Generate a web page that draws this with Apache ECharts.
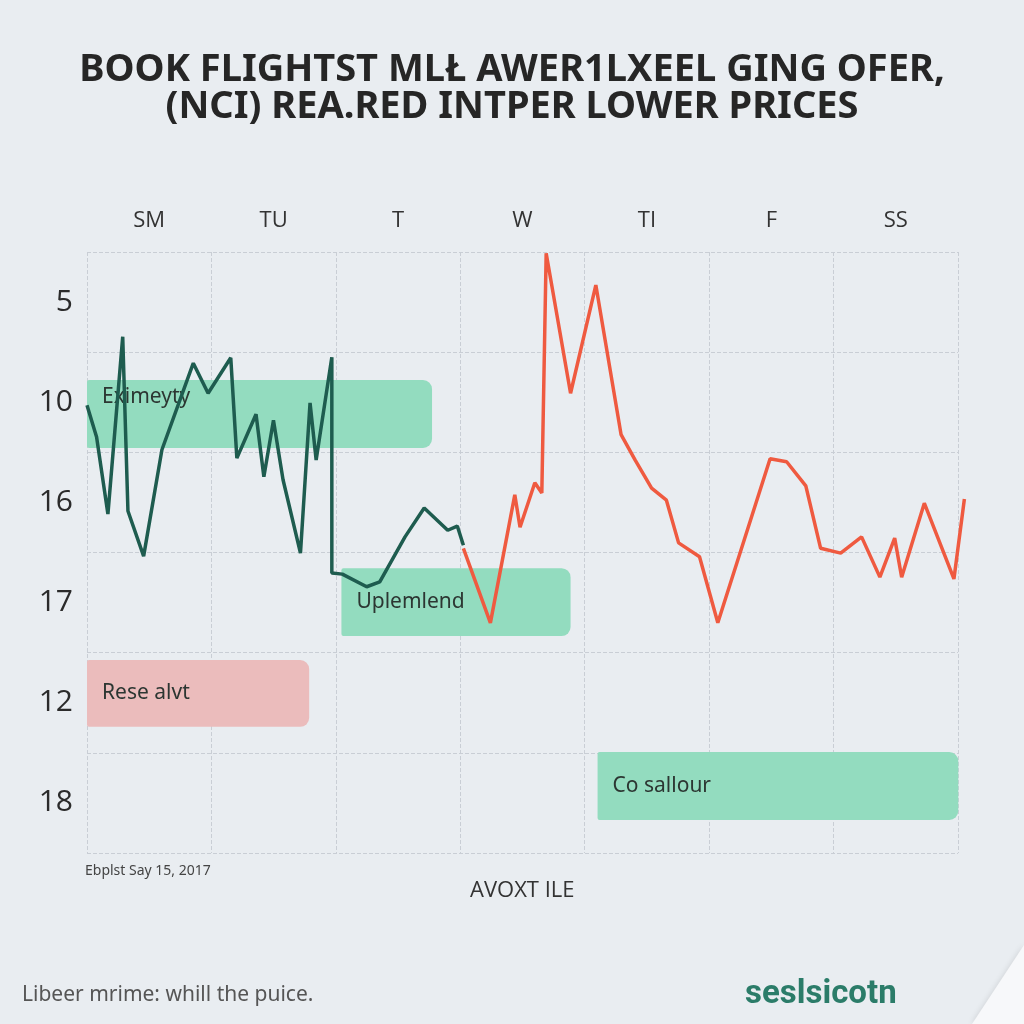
<!DOCTYPE html>
<html>
<head>
<meta charset="utf-8">
<script src="https://cdn.jsdelivr.net/npm/echarts@6/dist/echarts.min.js"></script>
<style>
  html, body { margin: 0; padding: 0; background: #e9edf1; }
  #chart { width: 1024px; height: 1024px; }
</style>
</head>
<body>
<div id="chart"></div>
<script>
// 类别与刻度
const dayLabels = ['SM', 'TU', 'T', 'W', 'TI', 'F', 'SS'];
const rowLabels = ['5', '10', '16', '17', '12', '18'];

// 绿色走势（前半段）
const greenX = [0, 1.1, 2.4, 4.1, 4.7, 6.5, 8.6, 12.2, 13.9, 16.5, 17.2, 19.4, 20.3, 21.4, 22.5, 24.5, 25.6, 26.3, 28.1, 28.1, 29.3, 32.1, 33.6, 36.5, 38.7, 41.4, 42.5, 43.2];
const greenY = [74.5, 69.2, 56.4, 85.9, 56.9, 49.4, 67.1, 81.5, 76.5, 82.4, 65.7, 73.0, 62.6, 72.0, 62.1, 49.9, 74.9, 65.4, 82.5, 46.6, 46.4, 44.3, 45.1, 52.6, 57.4, 53.7, 54.4, 51.2];

// 红色走势（后半段）
const redX = [43.2, 46.3, 49.1, 49.7, 51.4, 52.2, 52.7, 55.5, 58.4, 61.3, 62.9, 64.8, 66.5, 67.9, 70.3, 72.4, 78.4, 80.3, 82.5, 84.2, 86.5, 88.9, 91.0, 92.7, 93.5, 96.1, 99.5, 100.7];
const redY = [50.7, 38.3, 59.6, 54.2, 61.6, 59.9, 99.8, 76.5, 94.5, 69.6, 65.4, 60.7, 58.7, 51.6, 49.3, 38.3, 65.6, 65.1, 61.1, 50.7, 49.9, 52.6, 45.9, 52.4, 45.9, 58.2, 45.6, 58.9];

// 标注框
const boxLabels = ['Eximeyty', 'Uplemlend', 'Rese alvt', 'Co sallour'];
const boxStart = [0, 29.2, 0, 58.6];
const boxEnd = [39.6, 55.5, 25.5, 100];
const boxTop = [78.7, 47.4, 32.1, 16.8];
const boxBottom = [67.4, 36.1, 21.0, 5.5];
const boxColors = ['#93dcbf', '#93dcbf', '#ebbcbc', '#93dcbf'];
const boxTextPos = [0.25, 0.5, 0.5, 0.5];

const chart = echarts.init(document.getElementById('chart'));

const zip = (xs, ys) => xs.map((x, i) => [x, ys[i]]);
const boxData = boxLabels.map((_, i) => [boxStart[i], boxEnd[i], boxTop[i], boxBottom[i]]);

function renderBox(params, api) {
  const i = params.dataIndex;
  const p0 = api.coord([api.value(0), api.value(2)]);
  const p1 = api.coord([api.value(1), api.value(3)]);
  const h = p1[1] - p0[1];
  return {
    type: 'group',
    children: [
      {
        type: 'rect',
        shape: { x: p0[0], y: p0[1], width: p1[0] - p0[0], height: h, r: [2, 9, 9, 2] },
        style: { fill: boxColors[i] }
      },
      {
        type: 'text',
        style: {
          text: boxLabels[i],
          x: p0[0] + 15,
          y: p0[1] + h * boxTextPos[i],
          verticalAlign: 'middle',
          fill: '#2c3632',
          font: '21px "Liberation Sans Narrow", "Noto Sans", sans-serif'
        }
      }
    ]
  };
}

const gridLine = { show: true, lineStyle: { type: 'dashed', color: '#c9ced5', width: 1 } };

chart.setOption({
  backgroundColor: '#e9edf1',
  animation: false,
  title: {
    text: 'BOOK FLIGHTST MLŁ AWER1LXEEL GING OFER,\n(NCI) REA.RED INTPER LOWER PRICES',
    left: 'center',
    top: 47,
    textStyle: {
      fontFamily: '"Liberation Sans Narrow", "Noto Sans", sans-serif',
      fontWeight: 'bold',
      fontSize: 38,
      lineHeight: 37,
      color: '#262626'
    }
  },
  // 网格0：类别轴与网格线；网格1：折线与标注框（右侧略宽，容纳最后一点）
  grid: [
    { left: 87, right: 66, top: 252, bottom: 171 },
    { left: 87, right: 57, top: 252, bottom: 171 }
  ],
  xAxis: [
    {
      type: 'category',
      gridIndex: 0,
      data: dayLabels,
      position: 'top',
      axisLine: { show: false },
      axisTick: { show: false },
      axisLabel: { fontSize: 22, color: '#333', margin: 20, fontFamily: '"Open Sans", sans-serif' },
      splitLine: gridLine
    },
    { type: 'value', gridIndex: 1, min: 0, max: 101, show: false }
  ],
  yAxis: [
    {
      type: 'category',
      gridIndex: 0,
      data: rowLabels,
      inverse: true,
      axisLine: { show: false },
      axisTick: { show: false },
      axisLabel: { fontSize: 30, color: '#2b2b2b', margin: 14, padding: [20, 0, 0, 0], fontFamily: '"Open Sans", sans-serif' },
      splitLine: gridLine
    },
    { type: 'value', gridIndex: 1, min: 0, max: 100, show: false }
  ],
  graphic: [
    {
      type: 'text', left: 85, top: 864,
      style: { text: 'Ebplst Say 15, 2017', fill: '#444', font: '14px "Noto Sans", sans-serif' }
    },
    {
      type: 'text', left: 470, top: 880,
      style: { text: 'AVOXT ILE', fill: '#333', font: '22px "Open Sans", sans-serif' }
    },
    {
      type: 'text', left: 22, top: 985,
      style: { text: 'Libeer mrime: whill the puice.', fill: '#555', font: '21px "Liberation Sans Narrow", "Noto Sans", sans-serif' }
    },
    {
      type: 'text', left: 745, top: 978,
      style: { text: 'seslsicotn', fill: '#2b7c69', font: 'bold 33px Roboto, sans-serif' }
    },
    {
      type: 'polygon',
      shape: { points: [[1024, 945], [1024, 1024], [972, 1024]] },
      style: { fill: '#f7f8fa', shadowBlur: 6, shadowColor: 'rgba(0,0,0,0.12)' }
    }
  ],
  series: [
    {
      type: 'custom',
      xAxisIndex: 1,
      yAxisIndex: 1,
      renderItem: renderBox,
      encode: { x: [0, 1], y: [2, 3] },
      data: boxData,
      z: 1,
      silent: true
    },
    {
      type: 'line',
      xAxisIndex: 1,
      yAxisIndex: 1,
      data: zip(greenX, greenY),
      showSymbol: false,
      lineStyle: { color: '#1e5c4f', width: 3.5 },
      itemStyle: { color: '#1e5c4f' },
      z: 3
    },
    {
      type: 'line',
      xAxisIndex: 1,
      yAxisIndex: 1,
      data: zip(redX, redY),
      showSymbol: false,
      lineStyle: { color: '#ef5a40', width: 3.5 },
      itemStyle: { color: '#ef5a40' },
      z: 3
    }
  ]
});
</script>
</body>
</html>
